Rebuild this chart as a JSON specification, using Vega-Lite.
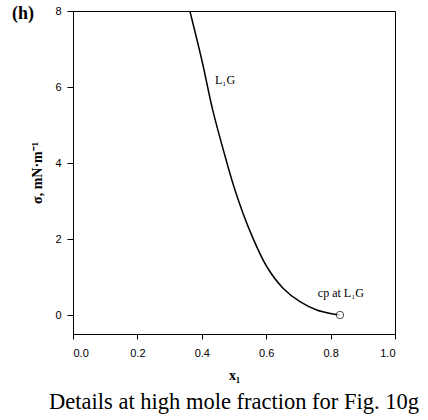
{
  "$schema": "https://vega.github.io/schema/vega-lite/v6.json",
  "width": 322,
  "height": 323,
  "autosize": {"type": "none"},
  "padding": {"left": 73, "top": 11, "right": 33, "bottom": 86},
  "background": "white",
  "title": {
    "text": "Details at high mole fraction for Fig. 10g",
    "orient": "bottom",
    "anchor": "middle",
    "font": "Liberation Serif",
    "fontSize": 22.5,
    "fontWeight": "normal",
    "color": "black",
    "offset": 9
  },
  "config": {
    "view": {"stroke": "black", "strokeWidth": 1},
    "axis": {
      "grid": false,
      "domainColor": "black",
      "tickColor": "black",
      "labelColor": "black",
      "titleColor": "black",
      "labelFont": "Liberation Sans",
      "labelFontSize": 11,
      "titleFont": "Liberation Serif",
      "titleFontSize": 14,
      "titleFontWeight": "bold"
    }
  },
  "datasets": {
    "curve": [
      {"x": 0.363, "s": 8.0},
      {"x": 0.4, "s": 6.71},
      {"x": 0.434, "s": 5.39},
      {"x": 0.467, "s": 4.34},
      {"x": 0.503, "s": 3.29},
      {"x": 0.548, "s": 2.24},
      {"x": 0.602, "s": 1.27},
      {"x": 0.653, "s": 0.70},
      {"x": 0.705, "s": 0.35},
      {"x": 0.757, "s": 0.13},
      {"x": 0.808, "s": 0.026},
      {"x": 0.829, "s": 0.0}
    ],
    "cp": [{"x": 0.829, "s": 0.0}],
    "labels": [
      {"x": 0.472, "s": 6.18, "t": "L₁G"},
      {"x": 0.832, "s": 0.58, "t": "cp at L₁G"}
    ],
    "panel": [{"x": -0.155, "s": 7.92, "t": "(h)"}]
  },
  "layer": [
    {
      "data": {"name": "curve"},
      "mark": {"type": "line", "color": "black", "strokeWidth": 1.5, "interpolate": "catmull-rom", "clip": true},
      "encoding": {
        "x": {
          "field": "x", "type": "quantitative",
          "scale": {"domain": [0, 1], "nice": false},
          "axis": {"values": [0, 0.2, 0.4, 0.6, 0.8, 1.0], "format": ".1f", "title": "x₁", "tickSize": 5, "labelPadding": 8, "titlePadding": 10}
        },
        "y": {
          "field": "s", "type": "quantitative",
          "scale": {"domain": [-0.5, 8], "nice": false, "zero": false},
          "axis": {"values": [0, 2, 4, 6, 8], "format": "d", "title": "σ, mN·m⁻¹", "tickSize": 6, "labelPadding": 6, "titlePadding": 10}
        }
      }
    },
    {
      "data": {"name": "cp"},
      "mark": {"type": "point", "shape": "circle", "filled": true, "fill": "white", "stroke": "black", "strokeWidth": 1, "size": 55},
      "encoding": {
        "x": {"field": "x", "type": "quantitative"},
        "y": {"field": "s", "type": "quantitative"}
      }
    },
    {
      "data": {"name": "labels"},
      "mark": {"type": "text", "font": "Liberation Serif", "fontSize": 12, "color": "black", "align": "center", "baseline": "middle"},
      "encoding": {
        "x": {"field": "x", "type": "quantitative"},
        "y": {"field": "s", "type": "quantitative"},
        "text": {"field": "t"}
      }
    },
    {
      "data": {"name": "panel"},
      "mark": {"type": "text", "font": "Liberation Serif", "fontSize": 18, "fontWeight": "bold", "color": "black", "align": "center", "baseline": "middle", "clip": false},
      "encoding": {
        "x": {"field": "x", "type": "quantitative"},
        "y": {"field": "s", "type": "quantitative"},
        "text": {"field": "t"}
      }
    }
  ]
}
